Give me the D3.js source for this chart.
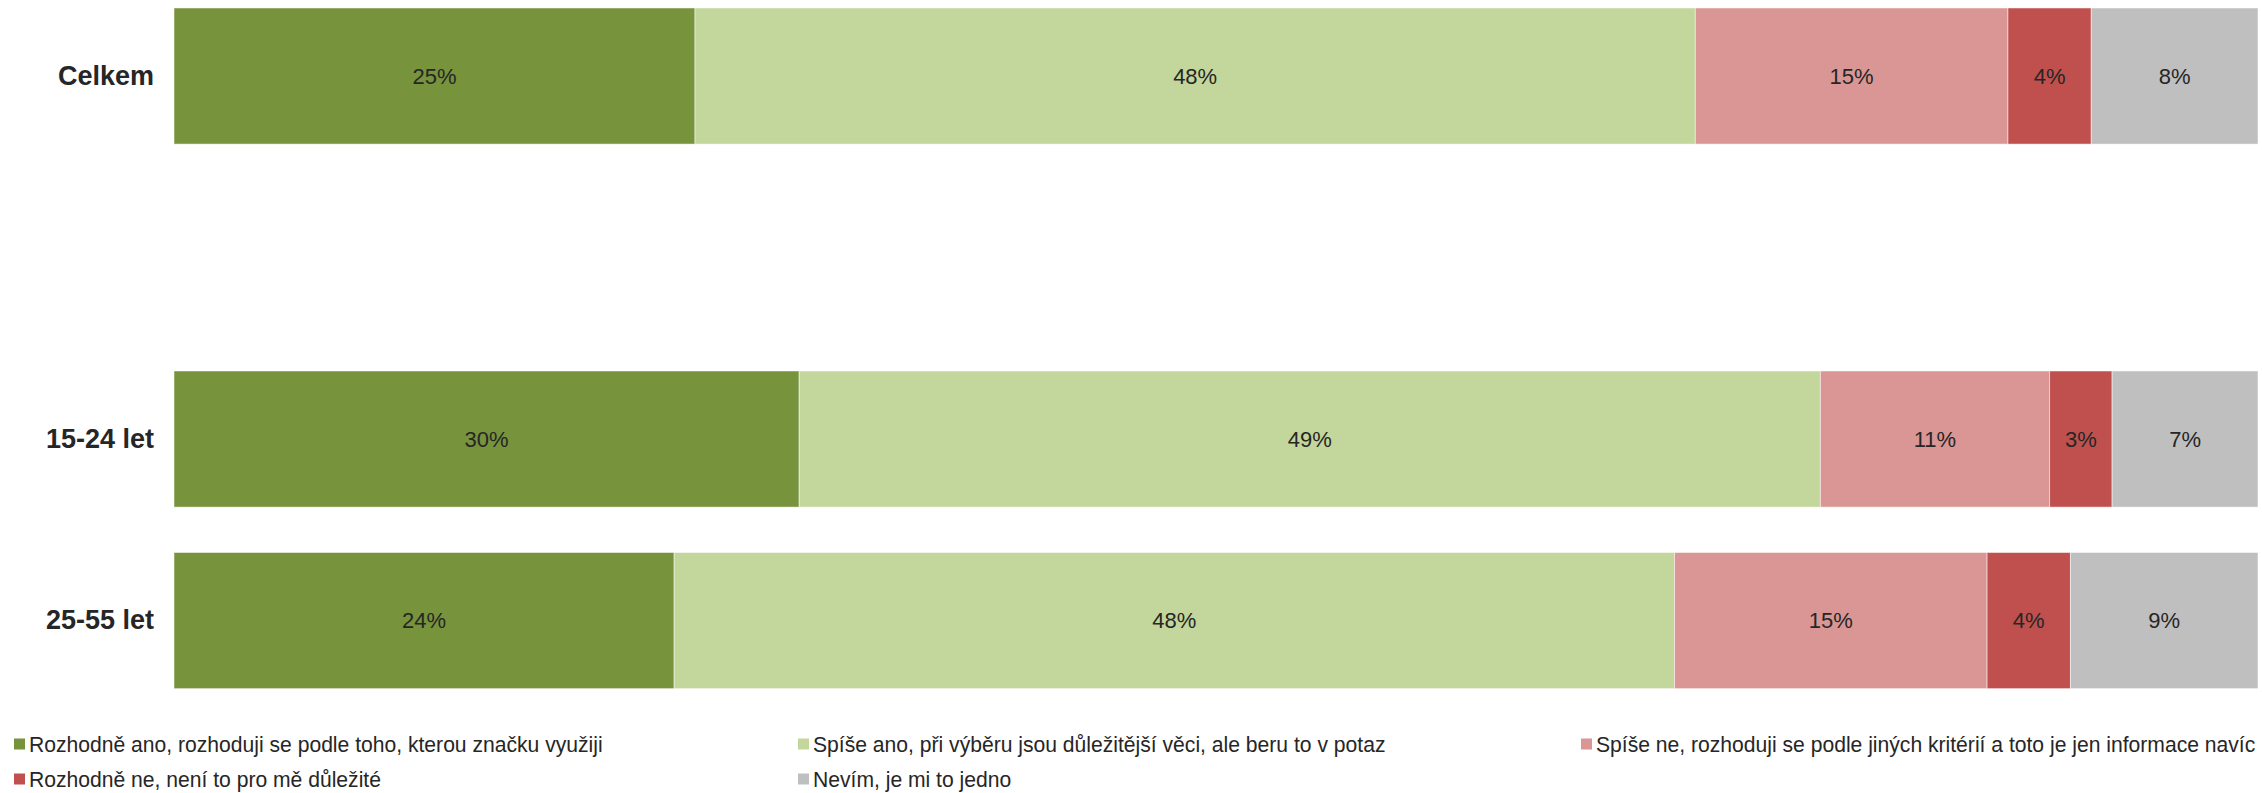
<!DOCTYPE html>
<html>
<head>
<meta charset="utf-8">
<script src="https://cdn.jsdelivr.net/npm/d3@7"></script>
<style>
html,body{margin:0;padding:0;background:#fff;}
svg{display:block;}
</style>
</head>
<body>
<svg id="chart" width="2262" height="793"></svg>
<script>
const categories = ["Celkem", "", "15-24 let", "25-55 let"];
const seriesNames = [
  "Rozhodně ano, rozhoduji se podle toho, kterou značku využiji",
  "Spíše ano, při výběru jsou důležitější věci, ale beru to v potaz",
  "Spíše ne, rozhoduji se podle jiných kritérií a toto je jen informace navíc",
  "Rozhodně ne, není to pro mě důležité",
  "Nevím, je mi to jedno"
];
const seriesColors = ["#77933C", "#C3D69B", "#D99694", "#C0504D", "#BFBFBF"];
const rozhodneAno = [25, null, 30, 24];
const spiseAno   = [48, null, 49, 48];
const spiseNe    = [15, null, 11, 15];
const rozhodneNe = [4, null, 3, 4];
const nevim      = [8, null, 7, 9];
const seriesValues = [rozhodneAno, spiseAno, spiseNe, rozhodneNe, nevim];

const svg = d3.select("#chart");
const font = "'Liberation Sans', Arial, Helvetica, sans-serif";

const x = d3.scaleLinear().domain([0, 100]).range([174, 2258]);
const y = d3.scaleBand().domain(categories).range([-1.1, 697.7])
  .paddingInner(0.25).paddingOuter(0.05);

const rows = categories.map((c, i) => {
  const o = {cat: c};
  seriesNames.forEach((s, j) => o[s] = seriesValues[j][i] == null ? 0 : seriesValues[j][i]);
  return o;
}).filter(d => d.cat !== "");
const stack = d3.stack().keys(seriesNames)(rows);

const g = svg.append("g");
stack.forEach((layer, j) => {
  const lg = g.append("g");
  lg.selectAll("rect").data(layer).join("rect")
    .attr("x", d => x(d[0]))
    .attr("width", d => x(d[1]) - x(d[0]))
    .attr("y", d => y(d.data.cat))
    .attr("height", y.bandwidth())
    .attr("fill", seriesColors[j])
    .attr("stroke", "#fff")
    .attr("stroke-opacity", 0.5)
    .attr("stroke-width", 1);
  lg.selectAll("text").data(layer).join("text")
    .attr("x", d => (x(d[0]) + x(d[1])) / 2)
    .attr("y", d => y(d.data.cat) + y.bandwidth() / 2)
    .attr("text-anchor", "middle")
    .attr("dominant-baseline", "central")
    .attr("font-family", font)
    .attr("font-size", 22)
    .attr("fill", "#262626")
    .text(d => (d[1] - d[0]) + "%");
});

const yAxis = d3.axisLeft(y).tickSize(0).tickPadding(20);
const ax = svg.append("g").attr("transform", `translate(${x(0)},0)`).call(yAxis);
ax.select(".domain").remove();
ax.selectAll("text")
  .attr("font-family", font)
  .attr("font-size", 27)
  .attr("font-weight", "bold")
  .attr("fill", "#262626");

const legendCols = [14, 798, 1581];
const legendRows = [744, 779];
const leg = svg.append("g");
seriesNames.forEach((s, j) => {
  const lx = legendCols[j % 3];
  const ly = legendRows[Math.floor(j / 3)];
  leg.append("rect")
    .attr("x", lx).attr("y", ly - 5.5)
    .attr("width", 11).attr("height", 11)
    .attr("fill", seriesColors[j]);
  leg.append("text")
    .attr("transform", `translate(${lx + 15},${ly}) scale(0.96,1)`)
    .attr("dominant-baseline", "central")
    .attr("font-family", font)
    .attr("font-size", 22)
    .attr("fill", "#262626")
    .text(s);
});
</script>
</body>
</html>
